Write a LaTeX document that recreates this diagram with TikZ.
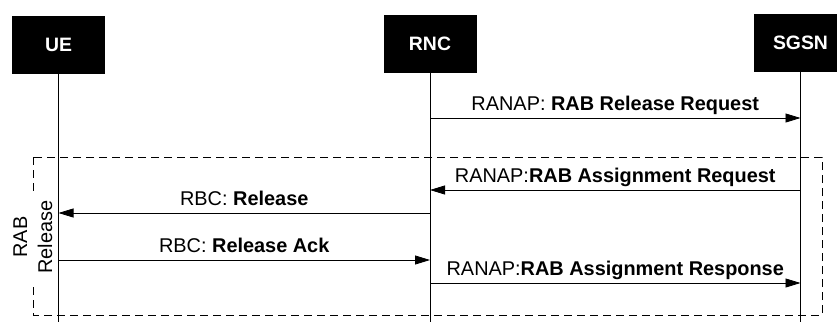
\documentclass[tikz,border=0pt]{standalone}
\usepackage{fontspec}
\setmainfont{Liberation Sans}
\usepackage{tikz}
\usetikzlibrary {arrows.meta,
                 positioning}
\tikzset{
        base/.style={font=\fontsize{19.9}{25}\selectfont},
        entity/.style={base, fill=black, text=white, font=\fontsize{19.4}{25}\selectfont\bfseries,
                       minimum width=93pt, minimum height=58pt, inner sep=0pt},
        lifeline/.style={line width=0.9pt},
        msg/.style={-{Triangle[length=15pt, width=9pt]}, line width=0.8pt},
        msglabel/.style={base, above, inner sep=0pt, text depth=0pt, yshift=7pt},
        groupbox/.style={dashed, dash pattern=on 8pt off 5pt, line width=0.8pt},
        grouplabel/.style={base, rotate=90, fill=white, align=center, inner sep=10pt},
 }
\begin{document}
\begin{tikzpicture}[x=1pt, y=-1pt]
    \useasboundingbox (0,0) rectangle (837,322);

    \node[entity] (ue)   at (58.5,45)  {UE};
    \node[entity] (rnc)  at (430,44)   {RNC};
    \node[entity] (sgsn) at (800.5,43) {SGSN};

    \coordinate (bottom) at (0,322);
    \coordinate (m1) at (0,118);
    \coordinate (m2) at (0,190);
    \coordinate (m3) at (0,213);
    \coordinate (m4) at (0,260);
    \coordinate (m5) at (0,283);

    % dashed group
    \coordinate (grp-nw) at (33,157);
    \coordinate (grp-se) at (822,315);
    \draw[groupbox] (grp-nw) rectangle (grp-se);
    \node[grouplabel] (grp) at (33,237) {RAB\\Release};

    \draw[lifeline] (ue.south)   -- (ue |- bottom);
    \draw[lifeline] (rnc.south)  -- (rnc |- bottom);
    \draw[lifeline] (sgsn.south) -- (sgsn |- bottom);

    \draw[msg] (rnc |- m1) -- node[msglabel] {RANAP: \textbf{RAB Release Request}} (sgsn |- m1);
    \draw[msg] (sgsn |- m2) -- node[msglabel] {RANAP:\textbf{RAB Assignment Request}} (rnc |- m2);
    \draw[msg] (rnc |- m3) -- node[msglabel] {RBC: \textbf{Release}} (ue |- m3);
    \draw[msg] (ue |- m4) -- node[msglabel] {RBC: \textbf{Release Ack}} (rnc |- m4);
    \draw[msg] (rnc |- m5) -- node[msglabel] {RANAP:\textbf{RAB Assignment Response}} (sgsn |- m5);
\end{tikzpicture}
\end{document}
